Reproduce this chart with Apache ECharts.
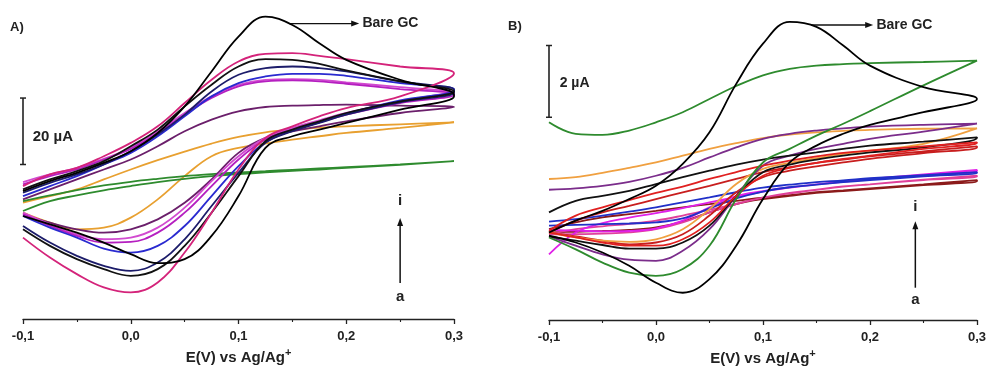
<!DOCTYPE html>
<html>
<head>
<meta charset="utf-8">
<script src="https://cdn.jsdelivr.net/npm/echarts@6/dist/echarts.min.js"></script>
<style>
html,body{margin:0;padding:0;background:#fff;}
#chart{width:989px;height:378px;}
</style>
</head>
<body>
<div id="chart"></div>
<script type="text/javascript">
// potential grid, forward scan then reverse scan
var E_FWD = [-0.1, -0.075, -0.05, -0.025, 0, 0.025, 0.05, 0.075, 0.1, 0.125, 0.15, 0.175, 0.2, 0.25, 0.3];
var E_REV = E_FWD.slice().reverse();

// panel A (µA, offset) - forward (up) / reverse (down)
var a_bare_up   = [38.5, 41.5, 44, 47, 50.5, 56, 64, 74.5, 85, 91, 88.5, 83, 78, 72, 67.5];
var a_bare_dn   = [67, 63, 59, 57, 55, 51.5, 37, 25, 18, 16.8, 19.5, 23, 26, 28.5, 31];
var a_pink_up   = [40, 43.5, 45.5, 49, 53, 58, 65, 72, 77.5, 79.8, 80, 79.2, 78.2, 76, 74];
var a_pink_dn   = [74, 67, 63.5, 61, 58, 54.5, 45, 32, 20, 11, 8, 9.5, 13.5, 18.5, 24.5];
var a_black_up  = [39, 42, 44.5, 47.5, 52, 57, 64, 70.5, 76, 78.2, 78, 76.8, 74.8, 71.5, 68.5];
var a_black_dn  = [68.5, 65.5, 62, 59.5, 57, 53.5, 43, 32, 22, 15, 13, 15, 18, 22, 27];
var a_navy_up   = [38, 41, 43.5, 46.5, 50.5, 55.5, 61.5, 68.5, 73.5, 75.5, 76, 75.5, 74.5, 71.5, 69];
var a_navy_dn   = [68.2, 65.2, 61.5, 59, 56.5, 53, 44, 34, 24, 17, 14.5, 16, 19, 23, 28];
var a_blue_up   = [37, 40, 43, 46.5, 50, 55, 61, 67, 71, 73, 73.8, 73.8, 73.2, 71, 69.2];
var a_blue_dn   = [68.8, 65.8, 61.8, 59.2, 56.7, 53.2, 46, 37, 28, 22, 20, 21.2, 24.5, 27.5, 31];
var a_mag_up    = [40.5, 43, 45, 48, 51.2, 56, 61.5, 66.5, 70, 71.5, 71.8, 71.5, 70.8, 69.2, 67.8];
var a_mag_dn    = [67.5, 65, 61.5, 59.2, 57, 54, 48, 40, 32, 26, 23.2, 23, 25, 28, 31.5];
var a_violet_up = [41.2, 43.5, 45.5, 48.2, 51.5, 56.5, 62, 67, 70.5, 72, 72.2, 72, 71.2, 69.8, 68.2];
var a_violet_dn = [68, 65.5, 62, 59.8, 57.5, 54.5, 49, 41.5, 33.5, 27.5, 24.5, 24, 25.5, 28.5, 32];
var a_purple_up = [36, 39, 42, 45, 48, 52, 56.5, 60, 62.5, 63.8, 64.2, 64.4, 64.5, 64.2, 63.8];
var a_purple_dn = [63.8, 62, 59.5, 58, 56.5, 54.5, 50, 42, 35, 30, 27, 26, 27, 29, 31.5];
var a_orange_up = [35, 37, 39, 42, 45, 47.8, 50.4, 52.8, 54.8, 56.2, 57, 57.6, 58, 58.6, 59.2];
var a_orange_dn = [59.2, 57.5, 56, 55, 54, 52.8, 51.5, 49, 43, 36, 30.5, 27.5, 27, 29, 32];
var a_green_up  = [35.5, 37.2, 38.8, 40.2, 41.3, 42.2, 43, 43.6, 44.1, 44.5, 44.9, 45.3, 45.7, 46.5, 47.5];
var a_green_dn  = [47.3, 46.4, 45.5, 45, 44.6, 44.1, 43.6, 43, 42.2, 41.2, 40, 38.7, 37.2, 35.5, 32.5];

// panel B (µA, offset)
var b_bare_up   = [2.44, 2.77, 3.04, 3.37, 3.74, 4.35, 5.23, 6.58, 7.70, 8.31, 8.17, 7.65, 7.09, 6.49, 6.16];
var b_bare_dn   = [6.16, 5.79, 5.44, 5.19, 4.86, 4.39, 3.37, 2.07, 1.14, 0.76, 1.04, 1.51, 1.88, 2.16, 2.35];
var b_green_up  = [5.51, 5.19, 5.16, 5.28, 5.51, 5.79, 6.16, 6.52, 6.82, 7.00, 7.09, 7.13, 7.16, 7.19, 7.23];
var b_green_dn  = [7.23, 6.54, 5.82, 5.47, 5.14, 4.77, 4.39, 3.37, 2.07, 1.42, 1.23, 1.32, 1.60, 1.97, 2.30];
var b_orange_up = [3.93, 3.98, 4.10, 4.24, 4.39, 4.58, 4.77, 4.93, 5.07, 5.17, 5.23, 5.27, 5.30, 5.33, 5.34];
var b_orange_dn = [5.34, 4.91, 4.72, 4.63, 4.51, 4.38, 4.21, 3.79, 3.09, 2.53, 2.25, 2.18, 2.21, 2.30, 2.44];
var b_purple_up = [3.63, 3.67, 3.74, 3.85, 4.02, 4.24, 4.53, 4.81, 5.05, 5.19, 5.28, 5.34, 5.39, 5.44, 5.47];
var b_purple_dn = [5.47, 5.25, 5.05, 4.91, 4.77, 4.58, 4.30, 3.46, 2.53, 1.93, 1.65, 1.68, 1.83, 2.07, 2.33];
var b_black_up  = [3.00, 3.32, 3.46, 3.60, 3.79, 3.98, 4.16, 4.33, 4.47, 4.58, 4.67, 4.77, 4.86, 4.97, 5.09];
var b_black_dn  = [5.07, 4.81, 4.67, 4.58, 4.47, 4.33, 4.12, 3.46, 2.63, 2.16, 1.99, 1.99, 2.09, 2.21, 2.33];
var b_red_up    = [2.49, 2.91, 3.14, 3.34, 3.54, 3.72, 3.93, 4.12, 4.30, 4.44, 4.56, 4.66, 4.72, 4.84, 4.95];
var b_red_dn    = [4.93, 4.77, 4.58, 4.49, 4.38, 4.24, 4.02, 3.46, 2.72, 2.25, 2.07, 2.07, 2.16, 2.30, 2.44];
var b_red2_up   = [2.44, 2.77, 3.00, 3.18, 3.37, 3.56, 3.74, 3.93, 4.12, 4.26, 4.38, 4.47, 4.56, 4.70, 4.84];
var b_red2_dn   = [4.81, 4.65, 4.49, 4.39, 4.28, 4.16, 3.98, 3.56, 2.91, 2.39, 2.16, 2.11, 2.21, 2.33, 2.44];
var b_blue_up   = [2.74, 2.81, 2.91, 3.02, 3.14, 3.28, 3.42, 3.56, 3.69, 3.77, 3.84, 3.89, 3.95, 4.04, 4.12];
var b_blue_dn   = [4.10, 4.00, 3.90, 3.84, 3.77, 3.70, 3.58, 3.39, 3.11, 2.83, 2.72, 2.69, 2.67, 2.65, 2.63];
var b_mag_up    = [1.83, 2.44, 2.70, 2.85, 2.98, 3.12, 3.28, 3.43, 3.58, 3.69, 3.78, 3.86, 3.93, 4.06, 4.18];
var b_mag_dn    = [4.15, 4.04, 3.93, 3.85, 3.78, 3.70, 3.59, 3.45, 3.14, 2.77, 2.55, 2.48, 2.47, 2.49, 2.51];
var b_pink_up   = [2.39, 2.53, 2.61, 2.68, 2.77, 2.91, 3.07, 3.24, 3.41, 3.53, 3.63, 3.72, 3.78, 3.91, 4.02];
var b_pink_dn   = [4.00, 3.90, 3.78, 3.72, 3.63, 3.54, 3.41, 3.23, 3.00, 2.72, 2.53, 2.44, 2.41, 2.39, 2.39];
var b_dred_up   = [2.53, 2.72, 2.86, 2.95, 3.04, 3.14, 3.23, 3.32, 3.41, 3.48, 3.56, 3.61, 3.67, 3.78, 3.90];
var b_dred_dn   = [3.87, 3.76, 3.65, 3.59, 3.54, 3.46, 3.37, 3.23, 3.00, 2.74, 2.58, 2.51, 2.48, 2.46, 2.44];

function loop(up, dn){
	return E_FWD.map(function(e, k){ return [e, up[k]]; })
		.concat(E_REV.map(function(e, k){ return [e, dn[k]]; }));
}

var panelA = [
	['#e8a030', a_orange_up, a_orange_dn],
	['#2e8b2e', a_green_up, a_green_dn],
	['#6b1f6b', a_purple_up, a_purple_dn],
	['#d24ad0', a_violet_up, a_violet_dn],
	['#b51fc0', a_mag_up, a_mag_dn],
	['#2a2ad0', a_blue_up, a_blue_dn],
	['#1c1c6a', a_navy_up, a_navy_dn],
	['#111111', a_black_up, a_black_dn],
	['#d4237a', a_pink_up, a_pink_dn],
	['#000000', a_bare_up, a_bare_dn]
];
var panelB = [
	['#8b1a1a', b_dred_up, b_dred_dn],
	['#e0409a', b_pink_up, b_pink_dn],
	['#e020e8', b_mag_up, b_mag_dn],
	['#2030c8', b_blue_up, b_blue_dn],
	['#c81e1e', b_red2_up, b_red2_dn],
	['#f0a040', b_orange_up, b_orange_dn],
	['#7b2d8b', b_purple_up, b_purple_dn],
	['#111111', b_black_up, b_black_dn],
	['#e02020', b_red_up, b_red_dn],
	['#2e8b2e', b_green_up, b_green_dn],
	['#000000', b_bare_up, b_bare_dn]
];

var FONT = '"Liberation Sans", Arial, sans-serif';
var series = [];
panelA.forEach(function(c){
	series.push({type:'line', xAxisIndex:0, yAxisIndex:0, data:loop(c[1], c[2]), smooth:0.4,
		showSymbol:false, silent:true, clip:false, lineStyle:{color:c[0], width:1.8}});
});
panelB.forEach(function(c){
	series.push({type:'line', xAxisIndex:1, yAxisIndex:1, data:loop(c[1], c[2]), smooth:0.4,
		showSymbol:false, silent:true, clip:false, lineStyle:{color:c[0], width:1.8}});
});

function xAxisCfg(idx){
	return {
		type:'value', gridIndex:idx, min:-0.1, max:0.3, interval:0.1,
		axisLine:{show:true, onZero:false, lineStyle:{color:'#222', width:1.3}},
		axisTick:{show:true, length:5, lineStyle:{color:'#222', width:1.3}},
		minorTick:{show:true, splitNumber:2, length:3, lineStyle:{color:'#222', width:1.1}},
		splitLine:{show:false},
		axisLabel:{margin:11, color:'#222', fontWeight:'bold', fontSize:13, fontFamily:FONT,
			formatter:function(v){ return v.toFixed(1).replace('.', ','); }},
		name:'E(V) vs Ag/Ag{sup|+}', nameLocation:'middle', nameGap:28,
		nameTextStyle:{color:'#222', fontWeight:'bold', fontSize:15, fontFamily:FONT,
			rich:{sup:{fontSize:11, fontWeight:'bold', verticalAlign:'top', padding:[0,0,9,0], color:'#222'}}}
	};
}

var myChart = echarts.init(document.getElementById('chart'));
myChart.setOption({
	animation:false,
	grid:[
		{left:23, right:535, top:10, bottom:59},
		{left:549, right:10, top:15, bottom:58}
	],
	xAxis:[xAxisCfg(0), xAxisCfg(1)],
	yAxis:[
		{type:'value', gridIndex:0, min:0, max:93, show:false},
		{type:'value', gridIndex:1, min:0, max:8.5, show:false}
	],
	series:series
});

// annotations placed in data space
function px(g, e, i){ return myChart.convertToPixel({gridIndex:g}, [e, i]); }
function txt(p, s, size, align){
	return {type:'text', x:p[0], y:p[1], silent:true,
		style:{text:s, fill:'#222', font:'bold '+size+'px '+FONT, align:align||'left', verticalAlign:'middle'}};
}
function hArrow(g, e0, e1, i){
	var a = px(g, e0, i), b = px(g, e1, i);
	return [
		{type:'line', shape:{x1:a[0], y1:a[1], x2:b[0]-6, y2:b[1]}, style:{stroke:'#111', lineWidth:1.4}},
		{type:'polygon', shape:{points:[[b[0], b[1]], [b[0]-8, b[1]-3], [b[0]-8, b[1]+3]]}, style:{fill:'#111'}}
	];
}
function vArrow(g, e, i0, i1){
	var a = px(g, e, i0), b = px(g, e, i1);
	return [
		{type:'line', shape:{x1:a[0], y1:a[1], x2:b[0], y2:b[1]+6}, style:{stroke:'#111', lineWidth:1.5}},
		{type:'polygon', shape:{points:[[b[0], b[1]], [b[0]-3, b[1]+8], [b[0]+3, b[1]+8]]}, style:{fill:'#111'}}
	];
}
function scaleBar(g, e, i0, i1){
	var a = px(g, e, i0), b = px(g, e, i1);
	return [
		{type:'line', shape:{x1:a[0], y1:a[1], x2:b[0], y2:b[1]}, style:{stroke:'#222', lineWidth:1.6}},
		{type:'line', shape:{x1:a[0]-3, y1:a[1], x2:a[0]+3, y2:a[1]}, style:{stroke:'#222', lineWidth:1.5}},
		{type:'line', shape:{x1:b[0]-3, y1:b[1], x2:b[0]+3, y2:b[1]}, style:{stroke:'#222', lineWidth:1.5}}
	];
}

var g = [];
g.push({type:'text', x:10, y:27, style:{text:'A)', fill:'#222', font:'bold 13px '+FONT, verticalAlign:'middle'}});
g.push({type:'text', x:508, y:26, style:{text:'B)', fill:'#222', font:'bold 13px '+FONT, verticalAlign:'middle'}});
g = g.concat(hArrow(0, 0.147, 0.212, 88.9));
g.push(txt(px(0, 0.215, 88.9), 'Bare GC', 14));
g = g.concat(scaleBar(0, -0.1, 46.5, 66.5));
g.push(txt(px(0, -0.091, 54.8), '20 µA', 15));
g = g.concat(vArrow(0, 0.25, 10.8, 30.4));
g.push(txt(px(0, 0.25, 35.5), 'i', 15, 'center'));
g.push(txt(px(0, 0.25, 6.8), 'a', 15, 'center'));

g = g.concat(hArrow(1, 0.145, 0.203, 8.22));
g.push(txt(px(1, 0.206, 8.22), 'Bare GC', 14));
g = g.concat(scaleBar(1, -0.1, 5.65, 7.65));
g.push(txt(px(1, -0.09, 6.6), '2 µA', 14));
g = g.concat(vArrow(1, 0.2424, 0.9, 2.75));
g.push(txt(px(1, 0.2424, 3.15), 'i', 15, 'center'));
g.push(txt(px(1, 0.2424, 0.55), 'a', 15, 'center'));

myChart.setOption({graphic:g});
</script>
</body>
</html>
